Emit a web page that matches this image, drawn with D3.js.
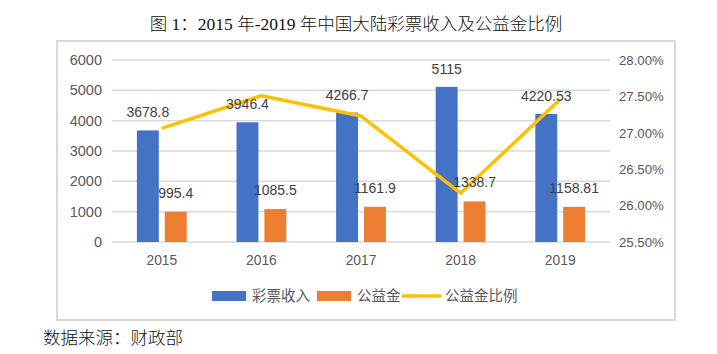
<!DOCTYPE html>
<html>
<head>
<meta charset="utf-8">
<script src="https://cdn.jsdelivr.net/npm/d3@7/dist/d3.min.js"></script>
<style>
  html, body { margin: 0; padding: 0; background: #fff; }
  svg { display: block; }
</style>
</head>
<body>
<svg id="chart" width="717" height="354"></svg>
<script>
const years = ["2015", "2016", "2017", "2018", "2019"];
const lotteryRevenue = [3678.8, 3946.4, 4266.7, 5115, 4220.53];
const welfareFund = [995.4, 1085.5, 1161.9, 1338.7, 1158.81];
const welfareRatio = [27.06, 27.51, 27.23, 26.17, 27.46];
const revenueLabels = ["3678.8", "3946.4", "4266.7", "5115", "4220.53"];
const fundLabels = ["995.4", "1085.5", "1161.9", "1338.7", "1158.81"];
const leftTicks = [0, 1000, 2000, 3000, 4000, 5000, 6000];
const rightTicks = [25.5, 26.0, 26.5, 27.0, 27.5, 28.0];
const seriesNames = ["彩票收入", "公益金", "公益金比例"];
const titleText = "图 1：2015 年-2019 年中国大陆彩票收入及公益金比例";
const sourceText = "数据来源：财政部";

const colors = { revenue: "#4472C4", fund: "#ED7D31", ratio: "#FFC000" };
const sans = "'Liberation Sans', 'Noto Sans CJK SC', sans-serif";
const cjk = "'Noto Sans CJK SC', 'Liberation Sans', sans-serif";
const serif = "'Liberation Serif', 'Noto Sans CJK SC', serif";

const svg = d3.select("#chart");
const plot = { left: 112, right: 610, top: 60, bottom: 242 };

// Title
svg.append("text")
  .attr("x", 356).attr("y", 30)
  .attr("text-anchor", "middle")
  .attr("font-family", serif)
  .attr("font-size", 17.5)
  .attr("font-weight", 300)
  .attr("fill", "#111")
  .text(titleText);

// Frame
svg.append("rect")
  .attr("x", 57).attr("y", 41)
  .attr("width", 618).attr("height", 279)
  .attr("fill", "none")
  .attr("stroke", "#d9d9d9")
  .attr("stroke-width", 2);

const x = d3.scaleBand().domain(years)
  .range([plot.left, plot.right])
  .paddingInner(0.5).paddingOuter(0.25);
const xs = d3.scaleBand().domain(["revenue", "fund"])
  .range([0, x.bandwidth()]).paddingInner(0.214);
const yL = d3.scaleLinear().domain([0, 6000]).range([plot.bottom, plot.top]);
const yR = d3.scaleLinear().domain([25.5, 28.0]).range([plot.bottom, plot.top]);
const center = d => x(d) + x.bandwidth() / 2;

// Gridlines
svg.append("g").selectAll("line").data(leftTicks).join("line")
  .attr("x1", plot.left).attr("x2", plot.right)
  .attr("y1", d => yL(d)).attr("y2", d => yL(d))
  .attr("stroke", "#d9d9d9").attr("stroke-width", 1.5);

// Left axis
const axL = svg.append("g")
  .attr("transform", `translate(${plot.left - 10},0)`)
  .call(d3.axisLeft(yL).tickValues(leftTicks).tickSize(0).tickPadding(0).tickFormat(d3.format("d")));
axL.select(".domain").remove();
axL.selectAll("text").attr("font-family", sans).attr("font-size", 14.5).attr("fill", "#595959");

// Right axis
const axR = svg.append("g")
  .attr("transform", `translate(${plot.right + 9},0)`)
  .call(d3.axisRight(yR).tickValues(rightTicks).tickSize(0).tickPadding(0).tickFormat(d => d.toFixed(2) + "%"));
axR.select(".domain").remove();
axR.selectAll("text").attr("font-family", sans).attr("font-size", 13.2).attr("fill", "#595959");

// Bottom axis labels
const axB = svg.append("g")
  .attr("transform", `translate(0,${plot.bottom + 13})`)
  .call(d3.axisBottom(x).tickSize(0).tickPadding(0));
axB.select(".domain").remove();
axB.selectAll("text").attr("font-family", sans).attr("font-size", 13.8).attr("fill", "#595959");

// Bars
const rev = years.map((y, i) => ({ year: y, v: lotteryRevenue[i], label: revenueLabels[i] }));
const fund = years.map((y, i) => ({ year: y, v: welfareFund[i], label: fundLabels[i] }));

svg.append("g").selectAll("rect").data(rev).join("rect")
  .attr("x", d => x(d.year) + xs("revenue"))
  .attr("width", xs.bandwidth())
  .attr("y", d => yL(d.v))
  .attr("height", d => plot.bottom - yL(d.v))
  .attr("fill", colors.revenue);

svg.append("g").selectAll("rect").data(fund).join("rect")
  .attr("x", d => x(d.year) + xs("fund"))
  .attr("width", xs.bandwidth())
  .attr("y", d => yL(d.v))
  .attr("height", d => plot.bottom - yL(d.v))
  .attr("fill", colors.fund);

// Line
const ratio = years.map((y, i) => ({ year: y, v: welfareRatio[i] }));
svg.append("path").datum(ratio)
  .attr("fill", "none")
  .attr("stroke", colors.ratio)
  .attr("stroke-width", 3.5)
  .attr("stroke-linejoin", "round")
  .attr("d", d3.line().x(d => center(d.year)).y(d => yR(d.v)));

// Data labels
svg.append("g").selectAll("text").data(rev).join("text")
  .attr("x", d => x(d.year) + xs("revenue") + xs.bandwidth() / 2)
  .attr("y", d => yL(d.v) - 13)
  .attr("text-anchor", "middle")
  .attr("font-family", sans).attr("font-size", 14).attr("fill", "#404040")
  .text(d => d.label);

svg.append("g").selectAll("text").data(fund).join("text")
  .attr("x", d => x(d.year) + xs("fund") + xs.bandwidth() / 2)
  .attr("y", d => yL(d.v) - 14)
  .attr("text-anchor", "middle")
  .attr("font-family", sans).attr("font-size", 14).attr("fill", "#404040")
  .text(d => d.label);

// Legend
const lg = svg.append("g").attr("font-family", cjk).attr("font-size", 14.5).attr("fill", "#595959");
lg.append("rect").attr("x", 212).attr("y", 291).attr("width", 34).attr("height", 10).attr("fill", colors.revenue);
lg.append("text").attr("x", 252).attr("y", 301).text(seriesNames[0]);
lg.append("rect").attr("x", 317).attr("y", 291).attr("width", 34).attr("height", 10).attr("fill", colors.fund);
lg.append("text").attr("x", 357).attr("y", 301).text(seriesNames[1]);
lg.append("line").attr("x1", 403).attr("x2", 440).attr("y1", 296).attr("y2", 296)
  .attr("stroke", colors.ratio).attr("stroke-width", 3.5).attr("stroke-linecap", "round");
lg.append("text").attr("x", 445).attr("y", 301).text(seriesNames[2]);

// Source
svg.append("text")
  .attr("x", 43).attr("y", 344)
  .attr("font-family", serif)
  .attr("font-size", 17.5)
  .attr("font-weight", 300)
  .attr("fill", "#111")
  .text(sourceText);
</script>
</body>
</html>
